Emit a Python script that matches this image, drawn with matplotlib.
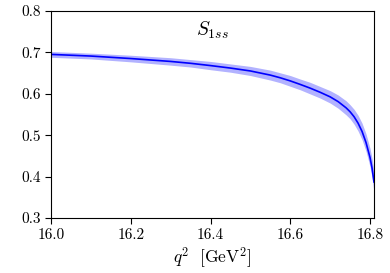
import matplotlib
matplotlib.use("Agg")
import matplotlib.pyplot as plt
import numpy as np

plt.rcParams["font.family"] = "serif"
plt.rcParams["font.serif"] = ["cmr10"]
plt.rcParams["mathtext.fontset"] = "cm"
plt.rcParams["axes.formatter.use_mathtext"] = True

# values
q2 = [16.00, 16.10, 16.20, 16.30, 16.35, 16.40, 16.45, 16.50, 16.55, 16.575,
      16.60, 16.625, 16.65, 16.675, 16.70, 16.72, 16.74, 16.75, 16.76, 16.77,
      16.78, 16.79, 16.80, 16.805, 16.81]
s1ss = [0.695, 0.691, 0.685, 0.678, 0.6735, 0.668, 0.662, 0.655, 0.645, 0.6385,
        0.631, 0.6225, 0.6135, 0.6035, 0.5925, 0.581, 0.566, 0.5565, 0.5445, 0.529,
        0.509, 0.482, 0.446, 0.421, 0.387]
err = [0.007, 0.007, 0.008, 0.009, 0.009, 0.010, 0.010, 0.011, 0.012, 0.012,
       0.013, 0.013, 0.014, 0.014, 0.015, 0.016, 0.017, 0.017, 0.018, 0.019,
       0.020, 0.021, 0.022, 0.023, 0.025]

q2 = np.array(q2)
s1ss = np.array(s1ss)
err = np.array(err)

fig = plt.figure(figsize=(3.9, 2.73), dpi=100)
ax = fig.add_axes([0.131, 0.2015, 0.828, 0.7585])

ax.fill_between(q2, s1ss - err, s1ss + err, color="blue", alpha=0.3, lw=0)
ax.plot(q2, s1ss, color="blue", lw=1.2)

ax.text(0.5, 0.905, r"$S_{1ss}$", transform=ax.transAxes, ha="center", va="center", fontsize=14)

ax.set_xlim(16.0, 16.81)
ax.set_ylim(0.3, 0.8)
ax.set_xticks([16.0, 16.2, 16.4, 16.6, 16.8])
ax.set_yticks([0.3, 0.4, 0.5, 0.6, 0.7, 0.8])
ax.set_xticklabels(["16.0", "16.2", "16.4", "16.6", "16.8"])
ax.set_yticklabels(["0.3", "0.4", "0.5", "0.6", "0.7", "0.8"])
ax.tick_params(labelsize=11, length=4)
ax.set_xlabel(r"$q^2\ \ [\mathrm{GeV}^2]$", fontsize=12.5, labelpad=2)

fig.savefig("out.png", dpi=100)
